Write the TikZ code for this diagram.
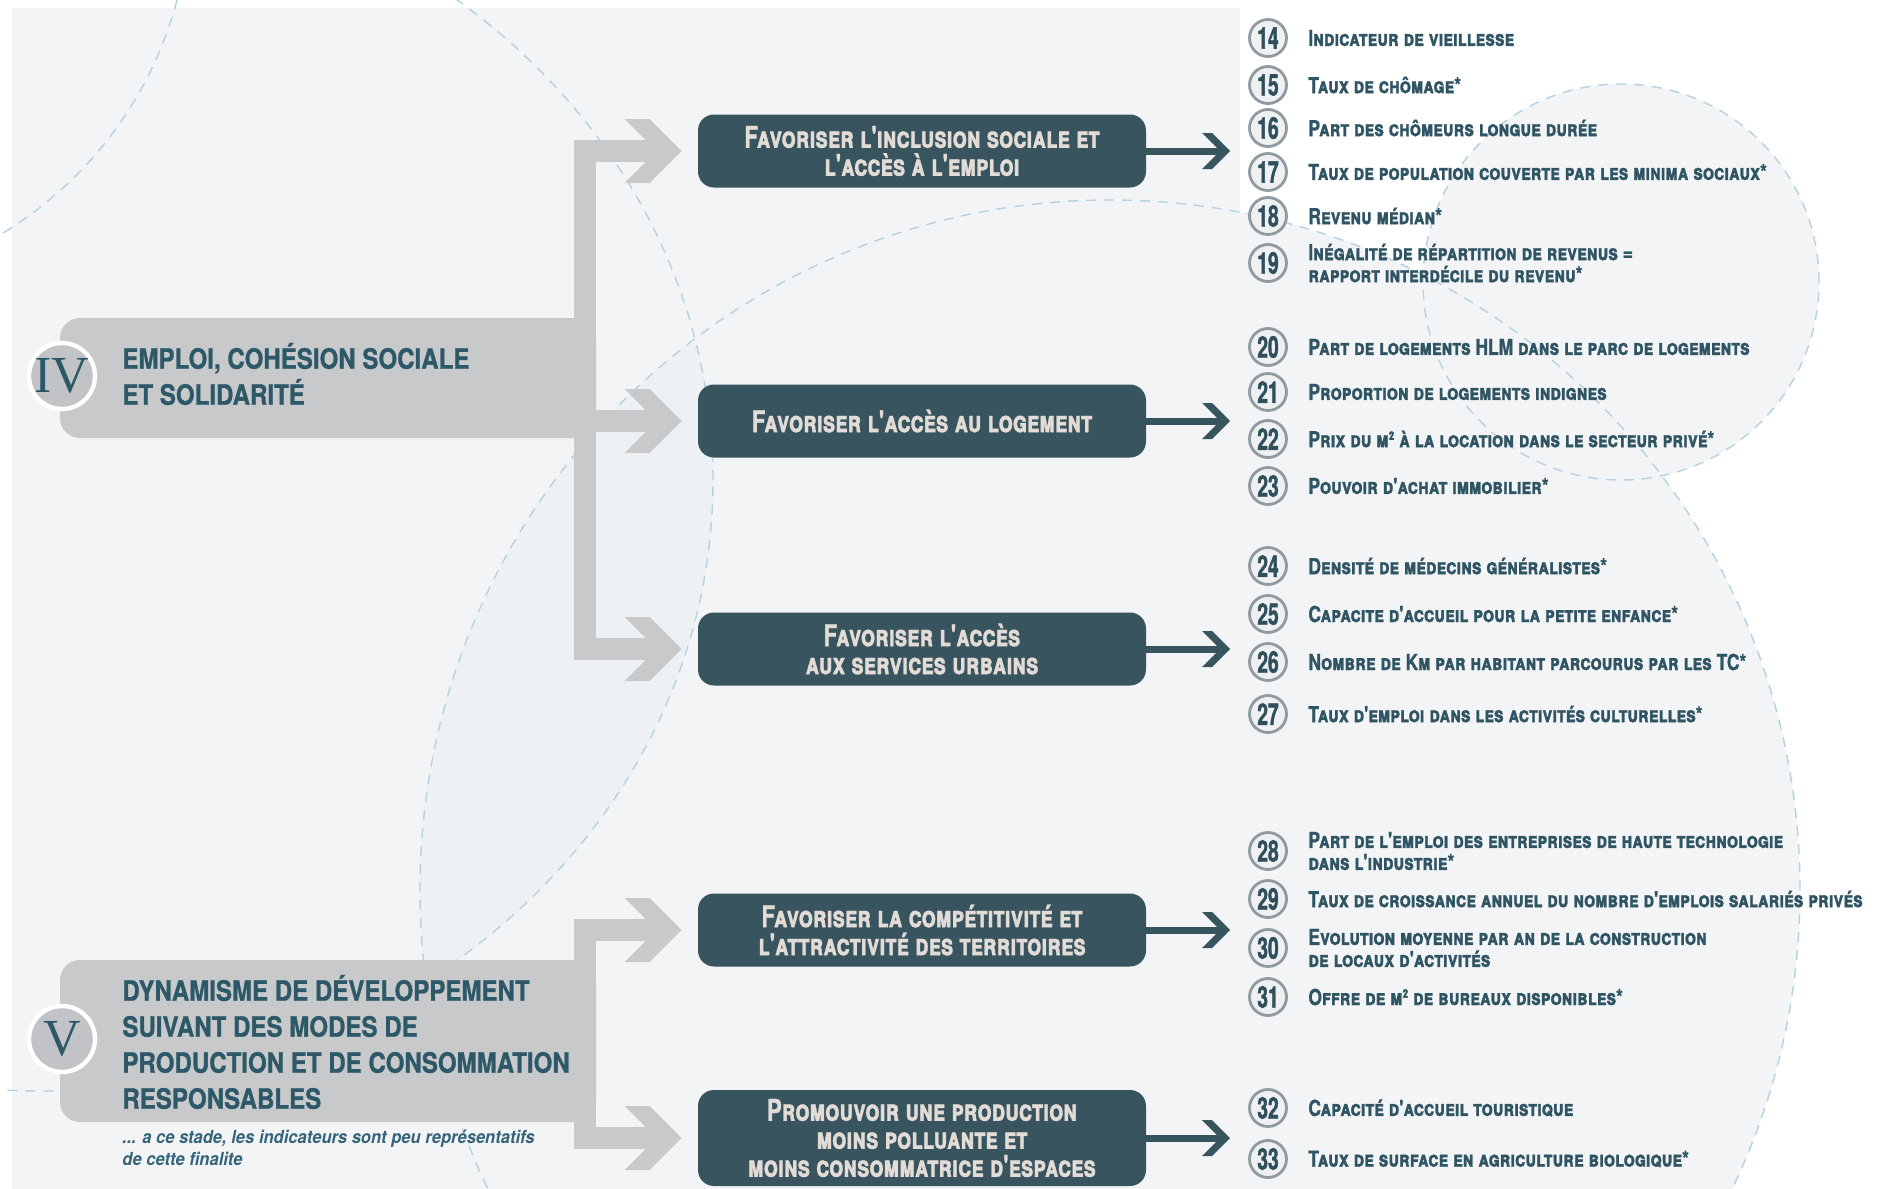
\documentclass[tikz,border=0pt]{standalone}
\usepackage{fontspec}
\setmainfont{TeX Gyre Heros}
\newfontfamily\headfont[FakeStretch=0.86,FakeBold=1]{TeX Gyre Heros}
\newfontfamily\boxfont[FakeStretch=0.74,FakeBold=1]{TeX Gyre Heros}
\newfontfamily\itemfont[FakeStretch=0.79,FakeBold=1]{TeX Gyre Heros}
\newfontfamily\numfont[FakeStretch=0.64,FakeBold=1.2]{TeX Gyre Heros}
\newfontfamily\notefont[FakeStretch=0.92]{TeX Gyre Heros}
\newfontfamily\romfont{Liberation Serif}
\usetikzlibrary{calc}
\definecolor{bgfill}{HTML}{F3F4F5}
\definecolor{lensfill}{HTML}{EDF1F4}
\definecolor{dashblue}{HTML}{B3D2E2}
\definecolor{gstruct}{HTML}{C8C9CB}
\definecolor{circg}{HTML}{C1C3C6}
\definecolor{headtxt}{HTML}{2D5868}
\definecolor{notetxt}{HTML}{35647A}
\definecolor{boxc}{HTML}{37545F}
\definecolor{boxtxt}{HTML}{E3DBD5}
\definecolor{numring}{HTML}{8F9BA1}
\definecolor{numfill}{HTML}{EEF0F1}
\definecolor{numtxt}{HTML}{2F4F5C}
\definecolor{itemtxt}{HTML}{2F5463}
\newcommand{\mychev}[4]{\fill[#4] (#1) -- ++(-#2,-#2) -- ++(-#3,0) -- ++(#2,#2) -- ++(-#2,#2) -- ++(#3,0) -- cycle;}
\tikzset{
  gbox/.style={rectangle, rounded corners=8pt, fill=boxc, text=boxtxt, minimum width=224pt, minimum height=36.5pt, align=center, inner sep=0pt, font=\boxfont\bfseries\scshape\fontsize{15}{14}\selectfont},
  numc/.style={circle, draw=numring, line width=1.4pt, fill=numfill, minimum size=18.5pt, inner sep=0pt, text=numtxt, font=\numfont\bfseries\fontsize{15}{15}\selectfont},
  itemt/.style={anchor=west, inner sep=0pt, align=left, text=itemtxt, font=\itemfont\bfseries\scshape\fontsize{11}{11}\selectfont},
  headt/.style={anchor=west, inner sep=0pt, align=left, text=headtxt, font=\headfont\bfseries\fontsize{14}{18}\selectfont},
  romc/.style={circle, fill=circg, draw=white, line width=2.2pt, minimum size=33pt, inner sep=0pt, text=headtxt, font=\romfont\fontsize{26}{26}\selectfont},
  notet/.style={anchor=west, inner sep=0pt, align=left, text=notetxt, font=\notefont\bfseries\itshape\fontsize{9}{11}\selectfont},
  dashc/.style={draw=dashblue, line width=0.7pt, dash pattern=on 5pt off 4pt},
  gshaft/.style={draw=gstruct, line width=11pt},
  dshaft/.style={draw=boxc, line width=3.5pt}
}
\begin{document}
\begin{tikzpicture}[x=0.5pt,y=-0.5pt]
\useasboundingbox (0,0) rectangle (1881,1189);
\fill[white] (0,0) rectangle (1881,1189);
% background
\begin{scope}
\clip (0,0) rectangle (1881,1189);
\fill[bgfill] (12,8) rectangle (1240,1189);
\fill[bgfill] (1110,890) circle [radius=345pt];
\fill[bgfill] (1621,282) circle [radius=99pt];
\begin{scope}
\clip (42,480) ellipse [x radius=335.5pt, y radius=305.5pt];
\fill[lensfill] (1110,890) circle [radius=345pt];
\end{scope}
\draw[dashc] (42,480) ellipse [x radius=335.5pt, y radius=305.5pt];
\draw[dashc] (1110,890) circle [radius=345pt];
\draw[dashc] (1621,282) circle [radius=99pt];
\draw[dashc] (-200,-100) circle [radius=195pt];
\end{scope}

% boxes
\node[gbox] (b1) at (922,151) {Favoriser l'inclusion sociale et\\l'accès à l'emploi};
\node[gbox] (b2) at (922,421) {Favoriser l'accès au logement};
\node[gbox] (b3) at (922,649) {Favoriser l'accès\\aux services urbains};
\node[gbox] (b4) at (922,930) {Favoriser la compétitivité et\\l'attractivité des territoires};
\node[gbox, minimum height=48pt] (b5) at (922,1138) {Promouvoir une production\\moins polluante et\\moins consommatrice d'espaces};

% gray structure IV
\fill[gstruct, rounded corners=10pt] (596,318) -- (60,318) -- (60,438) -- (596,438) -- cycle;
\fill[gstruct] (574,140) rectangle (596,660);
% gray structure V
\fill[gstruct, rounded corners=10pt] (596,960) -- (60,960) -- (60,1122) -- (596,1122) -- cycle;
\fill[gstruct] (574,919) rectangle (596,1149);

\foreach \i/\yy in {1/151,2/421,3/649,4/930,5/1138}{
  \coordinate (s\i) at (574,\yy);
  \coordinate (g\i) at ($(b\i.west)+(-16,0)$);
  \coordinate (d\i) at (1230,\yy);
}
\foreach \i in {1,...,5}{
  \draw[gshaft] (s\i) -- ($(g\i)+(-26,0)$);
  \mychev{g\i}{32}{25}{gstruct}
  \draw[dshaft] (b\i.east) -- ($(d\i)+(-10,0)$);
  \mychev{d\i}{18}{10}{boxc}
}

% headings
\node[romc] (c4) at (62,376) {IV};
\node[headt] (h4) at (122,374) {EMPLOI, COHÉSION SOCIALE\\ET SOLIDARITÉ};
\node[romc] (c5) at (62,1039) {V};
\node[headt] (h5) at (122,1042) {DYNAMISME DE DÉVELOPPEMENT\\SUIVANT DES MODES DE\\PRODUCTION ET DE CONSOMMATION\\RESPONSABLES};
\node[notet] (nt) at (122,1148) {... a ce stade, les indicateurs sont peu représentatifs\\de cette finalite};

% indicators
\foreach \n/\yy/\txt in {
 14/38/{Indicateur de vieillesse},
 15/85/{Taux de chômage*},
 16/128/{Part des chômeurs longue durée},
 17/172/{Taux de population couverte par les minima sociaux*},
 18/216/{Revenu médian*},
 19/263/{Inégalité de répartition de revenus =\\rapport interdécile du revenu*},
 20/347/{Part de logements HLM dans le parc de logements},
 21/392/{Proportion de logements indignes},
 22/439/{Prix du m² à la location dans le secteur privé*},
 23/486/{Pouvoir d'achat immobilier*},
 24/566/{Densité de médecins généralistes*},
 25/614/{Capacite d'accueil pour la petite enfance*},
 26/662/{Nombre de Km par habitant parcourus par les TC*},
 27/714/{Taux d'emploi dans les activités culturelles*},
 28/851/{Part de l'emploi des entreprises de haute technologie\\dans l'industrie*},
 29/899/{Taux de croissance annuel du nombre d'emplois salariés privés},
 30/948/{Evolution moyenne par an de la construction\\de locaux d'activités},
 31/997/{Offre de m² de bureaux disponibles*},
 32/1108/{Capacité d'accueil touristique},
 33/1159/{Taux de surface en agriculture biologique*}}{
  \node[numc] (n\n) at (1268,\yy) {\n};
  \node[itemt] (t\n) at (1308,\yy) {\txt};
}
\end{tikzpicture}
\end{document}
